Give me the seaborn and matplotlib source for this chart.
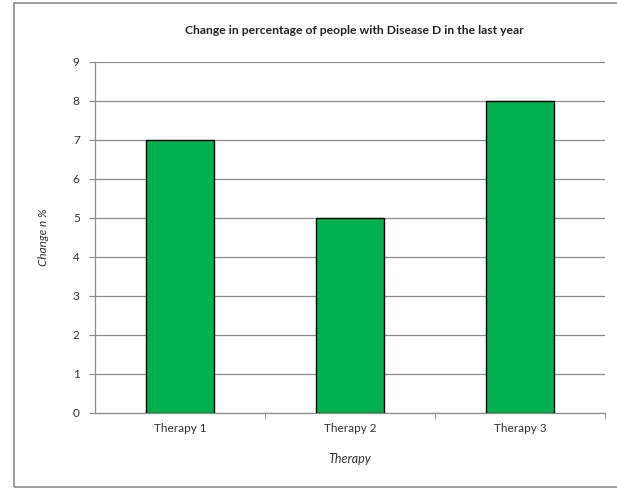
import matplotlib
matplotlib.use("Agg")
import matplotlib.pyplot as plt
import seaborn as sns
import pandas as pd
from matplotlib.patches import Rectangle

therapies = ["Therapy 1", "Therapy 2", "Therapy 3"]
change_pct = [7, 5, 8]
y_ticks = list(range(0, 10))

df = pd.DataFrame({"therapy": therapies, "change": change_pct})

sns.set_style("white")
plt.rcParams["font.family"] = ["Lato", "DejaVu Sans"]

fig = plt.figure(figsize=(6.17, 4.92), dpi=100)
ax = fig.add_axes([0.154, 0.161, 0.827, 0.713])

sns.barplot(data=df, x="therapy", y="change", color="#00b050",
            edgecolor="black", linewidth=1.0, width=0.4, saturation=1, ax=ax)

ax.set_ylim(0, 9)
ax.set_xlim(-0.5, 2.5)
ax.set_yticks(y_ticks)
ax.yaxis.grid(True, color="#8c8c8c", linewidth=0.9)
ax.set_axisbelow(True)

for side in ["top", "right"]:
    ax.spines[side].set_visible(False)
for side in ["left", "bottom"]:
    ax.spines[side].set_color("#8c8c8c")
    ax.spines[side].set_linewidth(0.9)

ax.tick_params(axis="y", length=4, color="#8c8c8c", labelsize=8.5, labelcolor="#333333", left=True, pad=7)
ax.tick_params(axis="x", length=0, labelsize=8.5, labelcolor="#333333", pad=7)
ax.set_xticks([0.5, 1.5, 2.5], minor=True)
ax.tick_params(axis="x", which="minor", length=4, color="#8c8c8c", bottom=True)

ax.set_xlabel("Therapy", fontsize=9, style="italic", color="#333333", labelpad=14)
ax.set_ylabel("Change n %", fontsize=8.5, style="italic", color="#333333", labelpad=17)
fig.text(0.575, 0.938, "Change in percentage of people with Disease D in the last year",
         ha="center", va="center", fontsize=8.7, fontweight="bold", color="#222222")

fig.patches.append(Rectangle((0.023, 0.01), 0.99, 0.983, transform=fig.transFigure,
                             fill=False, edgecolor="#8c8c8c", linewidth=1.2))

fig.savefig("out.png", dpi=100)
